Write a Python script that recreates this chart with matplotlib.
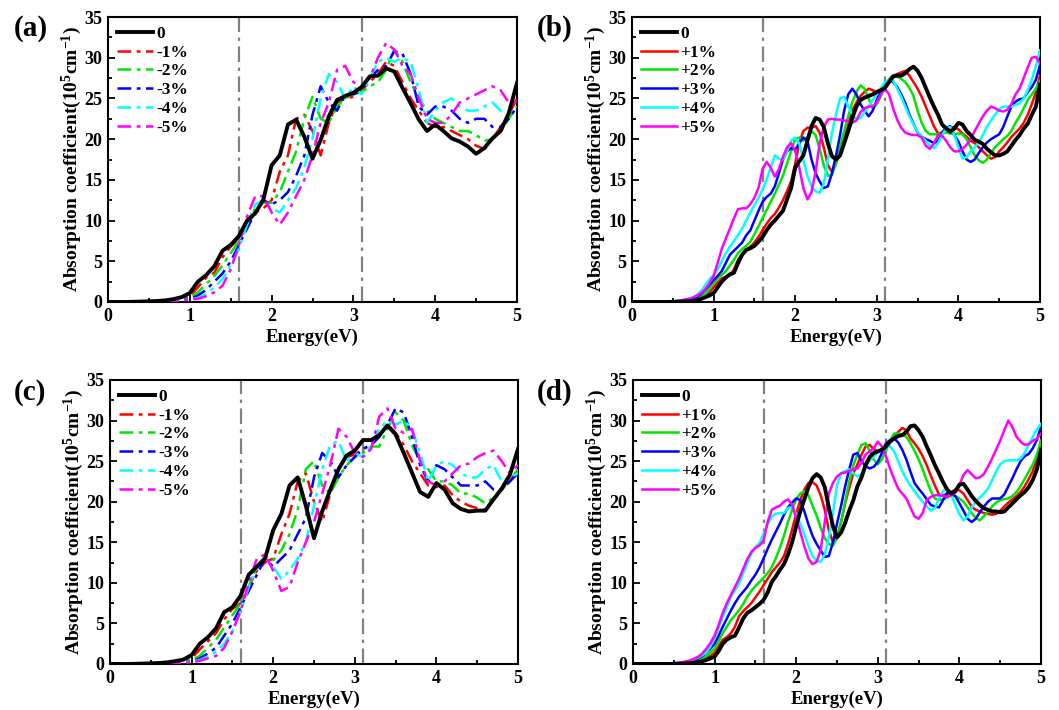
import numpy as np
import matplotlib
matplotlib.use("Agg")
import matplotlib.pyplot as plt

plt.rcParams['font.family'] = ['Liberation Serif', 'DejaVu Serif']
plt.rcParams['font.weight'] = 'bold'
plt.rcParams['mathtext.fontset'] = 'custom'
plt.rcParams['mathtext.bf'] = 'Liberation Serif:bold'
plt.rcParams['mathtext.rm'] = 'Liberation Serif:bold'
plt.rcParams['mathtext.default'] = 'bf'

# ---------------- data ----------------
# panels (a) and (c): 0.1 eV grid
energy_coarse = np.round(np.arange(0, 5.0001, 0.1), 2)
# panels (b) and (d): 0.05 eV grid
energy_fine = np.round(np.arange(0, 5.0001, 0.05), 3)

compressive_labels = ['0', '-1%', '-2%', '-3%', '-4%', '-5%']
tensile_labels = ['0', '+1%', '+2%', '+3%', '+4%', '+5%']
series_colors = ['#000000', '#FF0000', '#00E600', '#0000FF', '#00FFFF', '#FF00FF']
vlines_energy = [1.6, 3.1]

# ---- panel (a) ----
a_0 = [0, 0, 0, 0.02, 0.05, 0.08, 0.12, 0.2, 0.35, 0.6,
       1.1, 2.5, 3.3, 4.4, 6.3, 7.0, 8.1, 10.0, 10.9, 12.6,
       16.8, 18.0, 21.8, 22.4, 20.3, 17.6, 19.9, 22.8, 24.8, 25.3,
       25.7, 26.4, 27.7, 27.8, 28.7, 28.3, 26.3, 24.4, 22.4, 21.0,
       21.8, 21.0, 20.1, 19.7, 19.1, 18.2, 18.9, 20.1, 21.0, 23.2,
       26.9]
a_1 = [0, 0, 0, 0.01, 0.03, 0.06, 0.1, 0.15, 0.25, 0.45,
       0.7, 1.8, 3.0, 3.6, 5.5, 6.8, 7.8, 9.5, 11.0, 11.5,
       12.5, 16.0, 18.0, 22.5, 23.0, 21.0, 18.0, 22.0, 24.5, 25.0,
       25.2, 26.0, 27.0, 28.0, 29.5, 29.0, 27.0, 25.0, 23.5, 22.0,
       21.5, 21.5, 21.0, 20.5, 20.0, 19.2, 18.8, 20.0, 21.5, 23.0,
       25.0]
a_2 = [0, 0, 0, 0.01, 0.02, 0.05, 0.08, 0.12, 0.2, 0.35,
       0.5, 1.2, 2.2, 3.2, 4.5, 6.0, 7.5, 9.5, 11.5, 12.2,
       12.2, 13.5, 16.0, 18.5, 22.5, 25.2, 22.5, 22.0, 24.0, 25.0,
       25.5, 25.8, 26.5, 27.0, 28.5, 31.0, 29.5, 27.0, 25.0, 23.5,
       22.5, 22.0, 21.5, 21.0, 21.0, 20.5, 19.8, 20.0, 21.0, 22.5,
       24.0]
a_3 = [0, 0, 0, 0.01, 0.02, 0.04, 0.07, 0.1, 0.17, 0.3,
       0.4, 0.8, 1.5, 2.5, 3.5, 5.0, 7.0, 9.0, 11.0, 12.5,
       12.0, 12.5, 13.5, 15.5, 18.0, 23.0, 26.5, 24.5, 23.5, 25.5,
       25.5, 26.0, 27.5, 28.5, 29.0, 30.8, 30.5, 28.0, 24.0, 23.0,
       24.0, 24.0, 23.5, 22.5, 22.0, 22.5, 22.5, 21.5, 21.5, 22.5,
       24.0]
a_4 = [0, 0, 0, 0.01, 0.02, 0.03, 0.06, 0.09, 0.15, 0.25,
       0.3, 0.5, 1.0, 1.8, 2.8, 4.5, 6.5, 9.5, 12.0, 12.5,
       11.5, 11.0, 12.5, 14.0, 16.5, 20.0, 25.0, 28.0, 27.0, 25.0,
       26.5, 25.5, 27.5, 29.5, 30.0, 29.5, 30.0, 29.5, 26.0, 22.0,
       23.5, 24.5, 25.0, 24.0, 23.5, 23.5, 24.0, 24.5, 23.5, 23.5,
       23.5]
a_5 = [0, 0, 0, 0.01, 0.02, 0.03, 0.05, 0.08, 0.13, 0.2,
       0.3, 0.4, 0.7, 1.2, 2.0, 4.0, 7.0, 10.5, 13.0, 13.0,
       11.0, 9.5, 11.0, 13.0, 15.0, 18.0, 22.0, 24.5, 28.5, 29.0,
       27.0, 26.5, 27.5, 30.0, 31.8, 31.0, 29.0, 28.0, 25.0, 22.5,
       22.0, 22.0, 23.0, 24.5, 25.0, 25.5, 26.0, 26.5, 26.0, 24.5,
       24.5]

# ---- panel (c) ----
c_0 = [0, 0, 0, 0.02, 0.05, 0.08, 0.12, 0.2, 0.35, 0.55,
       1.1, 2.5, 3.3, 4.4, 6.4, 7.0, 8.4, 11.0, 12.0, 13.0,
       16.5, 18.5, 22.0, 23.0, 19.5, 15.5, 18.8, 21.5, 24.0, 25.7,
       26.3, 27.6, 27.6, 28.2, 29.4, 28.3, 26.0, 23.6, 21.2, 20.6,
       22.3, 21.5, 19.8, 19.1, 18.8, 18.9, 18.9, 20.3, 21.6, 23.3,
       26.5]
c_1 = [0, 0, 0, 0.01, 0.03, 0.06, 0.1, 0.15, 0.25, 0.45,
       0.7, 1.8, 2.8, 3.8, 5.5, 6.8, 7.5, 9.5, 11.5, 12.5,
       13.0, 16.0, 18.5, 22.5, 23.5, 20.0, 17.5, 21.0, 24.0, 25.5,
       25.8, 26.5, 27.0, 28.0, 29.5, 28.5, 27.0, 25.0, 23.5, 22.0,
       21.8, 22.0, 20.8, 20.0, 19.5, 19.2, 19.0, 20.2, 21.5, 22.5,
       24.0]
c_2 = [0, 0, 0, 0.01, 0.02, 0.05, 0.08, 0.12, 0.2, 0.35,
       0.5, 1.0, 2.0, 3.0, 4.5, 6.0, 7.5, 9.5, 12.0, 13.2,
       12.8, 14.0, 16.0, 19.0, 24.0, 25.0, 22.0, 21.0, 23.0, 24.5,
       25.5, 26.0, 26.8, 26.8, 29.0, 31.0, 30.0, 27.0, 25.0, 24.0,
       22.5, 22.5, 22.0, 21.0, 21.0, 20.5, 19.8, 20.5, 21.5, 22.5,
       24.0]
c_3 = [0, 0, 0, 0.01, 0.02, 0.04, 0.07, 0.1, 0.17, 0.25,
       0.3, 0.7, 1.3, 2.0, 3.5, 5.0, 7.0, 9.0, 11.0, 13.0,
       12.0, 13.0, 14.0, 16.0, 18.0, 23.0, 26.0, 25.0, 23.0, 24.5,
       25.5, 26.5, 27.0, 28.0, 29.5, 31.5, 31.0, 28.0, 24.5, 22.5,
       24.5, 24.0, 23.0, 22.0, 22.0, 22.0, 22.5, 21.5, 21.5, 22.5,
       23.5]
c_4 = [0, 0, 0, 0.01, 0.02, 0.03, 0.06, 0.09, 0.15, 0.22,
       0.3, 0.5, 0.9, 1.5, 2.5, 4.0, 6.5, 9.5, 12.0, 13.0,
       12.0, 10.5, 11.5, 13.0, 15.0, 19.5, 24.0, 27.0, 27.5, 25.0,
       26.0, 25.5, 27.0, 29.0, 30.0, 29.5, 30.0, 29.0, 26.0, 22.5,
       24.5, 25.0, 24.5, 23.5, 23.0, 23.0, 24.0, 24.5, 22.5, 23.0,
       23.5]
c_5 = [0, 0, 0, 0.01, 0.02, 0.03, 0.05, 0.08, 0.13, 0.18,
       0.2, 0.4, 0.7, 1.0, 2.0, 4.0, 6.5, 10.0, 13.0, 13.5,
       11.5, 9.0, 9.5, 12.5, 15.0, 17.5, 21.0, 24.5, 29.0, 28.0,
       26.0, 25.5, 26.5, 30.5, 31.5, 29.0, 28.5, 29.0, 25.0, 22.5,
       22.0, 22.5, 23.5, 24.5, 24.7, 25.5, 26.0, 26.3, 25.0, 23.5,
       24.5]

# ---- panel (b) ----
b_0 = [0, 0, 0, 0, 0, 0, 0, 0, 0, 0,
       0.02, 0.03, 0.05, 0.07, 0.1, 0.15, 0.25, 0.4, 0.6, 0.8,
       1.1, 1.8, 2.5, 3.0, 3.4, 3.6, 4.8, 5.8, 6.4, 6.6,
       6.9, 7.4, 8.0, 8.8, 9.5, 10.0, 10.6, 11.2, 12.6, 14.0,
       16.5, 17.3, 18.0, 19.8, 21.6, 22.6, 22.4, 21.5, 19.5, 17.9,
       17.5, 18.0, 19.5, 21.0, 22.6, 24.0, 24.8, 25.1, 25.3, 25.5,
       25.8, 26.0, 26.3, 27.0, 27.7, 27.8, 27.8, 28.1, 28.6, 28.9,
       28.4, 27.5, 26.3, 25.1, 24.0, 23.0, 21.8, 21.3, 20.9, 21.3,
       22.0, 21.8, 21.0, 20.5, 19.9, 19.7, 19.4, 18.8, 18.4, 18.0,
       18.0, 18.2, 18.5, 19.2, 19.9, 20.5, 21.3, 21.9, 23.0, 24.0,
       26.7]
b_1 = [0, 0, 0, 0, 0, 0, 0, 0, 0, 0.01,
       0.03, 0.05, 0.08, 0.12, 0.2, 0.3, 0.4, 0.6, 0.8, 1.2,
       1.8, 2.4, 2.9, 3.1, 3.3, 4.0, 5.2, 5.9, 6.4, 6.8,
       7.3, 8.0, 8.8, 9.6, 10.3, 10.8, 11.6, 12.5, 13.6, 14.8,
       17.0, 19.5, 21.0, 21.4, 21.4, 21.6, 20.8, 19.0, 16.8, 16.0,
       17.0, 18.5, 20.3, 21.8, 23.5, 24.5, 25.3, 25.8, 26.2, 26.0,
       25.8, 26.2, 26.8, 27.2, 27.8, 28.0, 28.2, 28.4, 27.8, 27.0,
       26.2, 25.2, 24.0, 22.8, 21.6, 20.7, 20.8, 21.2, 21.4, 21.5,
       21.2, 20.7, 20.3, 19.8, 19.5, 19.0, 18.5, 18.0, 17.6, 17.8,
       18.5, 19.0, 19.6, 20.3, 20.8, 21.3, 22.0, 23.0, 24.3, 25.8,
       27.8]
b_2 = [0, 0, 0, 0, 0, 0, 0, 0, 0, 0.01,
       0.03, 0.06, 0.1, 0.15, 0.25, 0.35, 0.5, 0.7, 1.0, 1.6,
       2.3, 2.9, 3.3, 3.8, 4.5, 5.2, 6.0, 6.5, 6.9, 7.4,
       8.3, 9.3, 10.3, 11.3, 12.3, 13.3, 14.4, 15.5, 17.0, 18.5,
       20.0, 20.2, 19.8, 20.3, 21.0, 20.5, 18.8, 16.8, 15.5, 15.6,
       17.0, 19.0, 21.0, 22.8, 24.5, 25.8, 26.6, 26.2, 25.0, 23.8,
       24.3, 25.3, 26.5, 27.3, 27.8, 27.7, 27.4, 27.0, 26.3, 25.3,
       23.5, 22.0, 21.0, 20.6, 20.6, 20.6, 20.7, 20.8, 20.7, 20.6,
       20.7, 20.6, 20.0, 19.0, 18.0, 17.4, 17.1, 17.5, 18.3, 19.0,
       19.5, 20.0, 20.4, 21.0, 22.0, 22.8, 23.8, 24.8, 25.5, 26.2,
       27.1]
b_3 = [0, 0, 0, 0, 0, 0, 0, 0, 0.01, 0.02,
       0.05, 0.08, 0.12, 0.2, 0.3, 0.45, 0.7, 1.0, 1.5, 2.1,
       2.7, 3.2, 3.8, 4.8, 5.8, 6.3, 6.8, 7.3, 8.2, 8.8,
       10.0, 11.2, 12.3, 12.9, 13.3, 14.2, 15.8, 17.5, 18.5, 18.9,
       18.7, 19.5, 20.2, 19.8, 17.5, 15.8, 14.8, 14.0, 14.2, 15.8,
       18.0, 20.5, 23.5, 25.5, 26.2, 25.5, 24.3, 23.5, 22.8, 23.5,
       24.8, 26.0, 26.8, 27.3, 27.0, 26.4, 25.5, 24.4, 23.0, 21.9,
       20.8, 20.3, 20.0, 19.8, 19.5, 19.8, 20.8, 21.4, 21.6, 20.5,
       19.7, 18.5, 17.5, 17.2, 17.5, 18.3, 19.0, 19.6, 20.0, 20.3,
       20.6, 21.5, 22.8, 24.0, 24.6, 24.9, 25.0, 25.8, 26.4, 27.3,
       29.1]
b_4 = [0, 0, 0, 0, 0, 0, 0, 0.01, 0.02, 0.03,
       0.07, 0.12, 0.18, 0.28, 0.4, 0.6, 0.9, 1.4, 2.1, 2.8,
       3.3, 4.0, 5.0, 6.0, 6.8, 7.5, 8.2, 9.0, 10.0, 11.0,
       11.9, 12.8, 13.8, 15.0, 16.5, 18.0, 17.6, 17.5, 18.5, 19.8,
       20.2, 19.5, 17.4, 15.5, 14.2, 13.6, 13.4, 14.5, 17.5, 20.7,
       23.0, 25.0, 25.2, 24.0, 23.0, 22.4, 22.6, 23.3, 24.0, 24.8,
       25.5, 26.3, 27.0, 27.3, 27.2, 26.2, 25.2, 24.0, 22.8, 21.8,
       20.9, 20.3, 19.8, 19.2, 18.9, 19.5, 20.5, 21.3, 21.5, 20.5,
       19.0, 17.6, 17.8, 18.5, 19.0, 19.6, 20.5, 21.5, 22.3, 23.0,
       23.7, 24.0, 24.0, 24.0, 24.2, 24.4, 25.0, 26.0, 27.3, 29.0,
       30.9]
b_5 = [0, 0, 0, 0, 0, 0, 0, 0.01, 0.02, 0.04,
       0.07, 0.12, 0.2, 0.3, 0.4, 0.55, 0.8, 1.1, 1.6, 2.3,
       3.2, 4.8, 6.5, 7.8, 9.0, 10.3, 11.4, 11.5, 11.5, 12.0,
       12.8, 14.0, 16.3, 17.2, 16.5, 15.4, 16.3, 17.8, 19.0, 19.5,
       18.5, 16.5, 14.0, 12.6, 13.5, 16.0, 19.5, 21.5, 22.4, 22.5,
       22.4, 22.4, 22.3, 22.2, 22.0, 22.3, 23.3, 23.8, 24.0, 24.0,
       24.5, 25.5, 26.2, 25.5, 23.8, 22.4, 21.4, 20.8, 20.6, 20.5,
       20.5, 20.2, 19.2, 18.8, 19.5, 20.5, 20.4, 19.8, 19.0, 18.5,
       18.5, 18.8, 19.3, 20.0, 21.0, 21.9, 22.8, 23.5, 24.0, 23.8,
       23.5, 23.4, 23.6, 24.3, 25.5, 26.2, 27.5, 28.8, 30.0, 30.1,
       29.3]

# ---- panel (d) ----
d_0 = [0, 0, 0, 0, 0, 0, 0, 0, 0, 0,
       0.02, 0.03, 0.05, 0.07, 0.1, 0.15, 0.25, 0.35, 0.5, 0.7,
       0.9, 1.6, 2.5, 3.0, 3.3, 3.5, 4.5, 5.6, 6.3, 6.6,
       7.0, 7.4, 7.9, 8.8, 10.1, 10.8, 11.6, 12.3, 13.5, 15.0,
       17.0, 18.8, 20.3, 21.8, 22.9, 23.4, 23.0, 21.8, 19.3, 17.0,
       15.6, 16.2, 17.4, 18.9, 20.2, 21.9, 23.0, 24.5, 25.5, 26.0,
       26.2, 26.4, 26.8, 27.4, 27.8, 28.1, 28.2, 28.6, 29.3, 29.4,
       28.8, 28.0, 26.8, 25.7, 24.5, 23.5, 22.4, 21.5, 21.0, 21.3,
       22.1, 22.2, 21.5, 20.7, 20.1, 19.6, 19.2, 19.0, 18.8, 18.8,
       18.7, 18.8, 19.3, 19.8, 20.3, 20.8, 21.2, 21.8, 22.7, 24.0,
       26.4]
d_1 = [0, 0, 0, 0, 0, 0, 0, 0, 0, 0.01,
       0.03, 0.05, 0.08, 0.12, 0.18, 0.28, 0.4, 0.6, 0.8, 1.0,
       1.4, 2.2, 3.0, 3.3, 3.8, 4.6, 5.9, 6.5, 7.0, 7.5,
       8.2, 8.9, 9.7, 10.5, 11.3, 11.9, 12.5, 13.3, 14.8, 16.6,
       18.5, 20.2, 21.5, 22.3, 22.4, 22.0, 20.8, 19.0, 16.5, 15.0,
       15.7, 17.5, 19.8, 21.7, 23.5, 24.6, 25.8, 26.8, 27.0, 26.5,
       26.2, 26.5, 27.0, 27.5, 28.1, 28.6, 29.1, 28.8, 27.8, 27.2,
       26.5, 25.6, 24.5, 23.2, 22.0, 20.9, 20.8, 20.9, 21.2, 21.5,
       21.4, 21.0, 20.2, 19.4, 19.0, 18.8, 18.6, 18.5, 18.4, 18.5,
       18.9, 19.4, 19.9, 20.3, 20.7, 21.2, 21.9, 22.8, 23.8, 25.3,
       27.6]
d_2 = [0, 0, 0, 0, 0, 0, 0, 0, 0.01, 0.02,
       0.04, 0.07, 0.11, 0.17, 0.25, 0.35, 0.5, 0.7, 1.0, 1.4,
       1.9, 2.8, 3.8, 4.6, 5.4, 6.0, 6.6, 7.4, 8.3, 9.0,
       9.6, 10.1, 10.6, 11.2, 11.9, 13.0, 14.3, 15.8, 17.5, 19.0,
       20.3, 21.0, 21.3, 20.8, 19.5, 18.3, 16.8, 15.5, 14.8, 14.6,
       15.5, 17.5, 20.0, 22.5, 24.5, 25.8, 27.0, 27.2, 26.3, 25.2,
       24.6, 25.2, 26.3, 27.5, 28.4, 28.4, 28.3, 28.0, 27.2, 26.3,
       25.2, 24.0, 22.6, 21.3, 20.4, 20.2, 20.3, 20.5, 20.8, 20.7,
       20.4, 20.0, 19.3, 18.6, 18.0, 17.7, 18.2, 18.8, 19.4, 19.9,
       20.2, 20.3, 20.4, 20.7, 21.2, 21.9, 22.8, 23.7, 24.6, 25.8,
       27.5]
d_3 = [0, 0, 0, 0, 0, 0, 0, 0.01, 0.02, 0.03,
       0.06, 0.1, 0.15, 0.23, 0.35, 0.5, 0.7, 1.0, 1.4, 1.9,
       2.5, 3.5, 4.6, 5.6, 6.6, 7.5, 8.3, 8.9, 9.5, 10.3,
       11.0, 11.9, 13.0, 14.2, 15.3, 16.3, 17.3, 18.4, 19.3, 19.9,
       20.4, 20.2, 18.8, 17.2, 15.8, 14.8, 14.0, 13.2, 13.3, 15.0,
       17.3, 19.5, 21.9, 24.0, 25.8, 26.0, 25.0, 24.4, 24.1, 24.3,
       24.9, 26.0, 27.2, 27.6, 27.8, 27.3, 26.4, 25.2, 23.7, 22.3,
       21.6, 21.0, 20.3, 19.6, 19.4, 19.3, 20.2, 21.1, 21.0, 20.7,
       19.8, 18.9, 17.9, 17.5, 17.9, 18.7, 19.4, 20.0, 20.4, 20.4,
       20.4, 20.9, 21.9, 22.9, 24.0, 25.0, 25.6, 25.9, 26.6, 27.6,
       29.3]
d_4 = [0, 0, 0, 0, 0, 0, 0, 0.01, 0.02, 0.04,
       0.07, 0.12, 0.18, 0.28, 0.4, 0.6, 0.8, 1.1, 1.4, 2.2,
       3.2, 4.5, 5.8, 7.0, 8.3, 9.1, 9.9, 11.2, 12.4, 13.6,
       14.4, 14.9, 16.0, 17.2, 18.2, 18.5, 18.6, 18.6, 19.2, 19.4,
       18.5, 17.3, 16.0, 14.6, 13.3, 12.7, 12.6, 13.5, 15.6, 18.5,
       22.0, 23.5, 23.8, 24.0, 23.5, 23.1, 23.4, 24.3, 25.1, 25.6,
       26.1, 26.4, 26.7, 26.8, 26.2, 25.0, 23.8, 22.8, 22.0, 21.3,
       20.6, 20.0, 19.4, 18.9, 19.2, 20.4, 21.3, 21.7, 20.8, 19.6,
       18.5, 17.7, 18.2, 19.3, 20.0, 20.5, 21.0, 21.6, 22.6, 23.7,
       24.6, 25.0, 25.1, 25.1, 25.1, 25.3, 26.0, 27.0, 28.0, 28.9,
       29.6]
d_5 = [0, 0, 0, 0, 0, 0, 0, 0.01, 0.03, 0.05,
       0.1, 0.15, 0.22, 0.32, 0.45, 0.65, 0.9, 1.3, 1.9, 2.6,
       3.5, 4.8, 6.3, 7.5, 8.5, 9.5, 10.5, 11.7, 12.9, 13.8,
       14.3, 14.6, 15.2, 17.5, 19.0, 19.3, 19.5, 20.0, 20.3, 19.6,
       18.0, 16.3, 14.5, 13.0, 12.3, 12.6, 14.0, 17.5, 21.0, 22.3,
       23.1, 23.5, 23.6, 23.8, 24.0, 24.1, 24.8, 25.8, 26.2, 26.6,
       27.4, 26.8, 25.6, 24.1, 22.8, 21.6, 21.0, 20.4, 19.3, 18.2,
       17.9, 18.6, 20.2, 20.6, 20.8, 20.8, 20.7, 20.6, 20.8, 21.1,
       22.0, 23.3, 23.9, 23.4, 22.9, 23.0, 23.4, 24.3, 25.3, 26.4,
       27.5, 28.8, 30.0, 29.2, 28.0, 27.4, 27.0, 27.1, 27.5, 27.8,
       28.4]

panels = [
    ('(a)', energy_coarse, [a_0, a_1, a_2, a_3, a_4, a_5], compressive_labels, True),
    ('(b)', energy_fine, [b_0, b_1, b_2, b_3, b_4, b_5], tensile_labels, False),
    ('(c)', energy_coarse, [c_0, c_1, c_2, c_3, c_4, c_5], compressive_labels, True),
    ('(d)', energy_fine, [d_0, d_1, d_2, d_3, d_4, d_5], tensile_labels, False),
]

# ---------------- figure ----------------
W, H = 1059, 710
fig = plt.figure(figsize=(W / 100, H / 100), dpi=100)

def box(l, t, r, b):
    return [l / W, 1 - b / H, (r - l) / W, (b - t) / H]

axes_boxes = [box(108, 17, 517, 302), box(632, 17, 1040, 302),
              box(110, 380, 518, 664), box(633, 380, 1041, 664)]
label_pos = [(14, 28), (537, 28), (14, 392), (537, 392)]

for (tag, energy, series, labels, dashed), rect, lp in zip(panels, axes_boxes, label_pos):
    ax = fig.add_axes(rect)
    for xv in vlines_energy:
        ax.axvline(xv, color='#808080', lw=1.6, ls=(0, (7, 2.5, 1.5, 2.5)), zorder=1)
    for i, (vals, lab, col) in enumerate(zip(series, labels, series_colors)):
        if i == 0:
            ax.plot(energy, vals, color=col, lw=2.8, label=lab, zorder=5,
                    solid_joinstyle='round')
        elif dashed:
            ax.plot(energy, vals, color=col, lw=1.8, label=lab, zorder=3,
                    dashes=(5.5, 2.2, 1.5, 2.2))
        else:
            ax.plot(energy, vals, color=col, lw=1.8, label=lab, zorder=3,
                    solid_joinstyle='round')
    ax.set_xlim(0, 5)
    ax.set_ylim(0, 35)
    ax.set_xticks(np.arange(0, 5.01, 1))
    ax.set_xticks(np.arange(0.5, 5, 1), minor=True)
    ax.set_yticks(np.arange(0, 35.01, 5))
    ax.set_yticks(np.arange(2.5, 35, 5), minor=True)
    ax.tick_params(which='both', direction='in', width=1.3, labelsize=13, pad=4)
    ax.tick_params(which='major', length=5)
    ax.tick_params(which='minor', length=3)
    for sp in ax.spines.values():
        sp.set_linewidth(1.5)
    for t in ax.get_xticklabels() + ax.get_yticklabels():
        t.set_fontweight('bold')
    ax.set_xlabel('Energy(eV)', fontsize=13.5, fontweight='bold', labelpad=3)
    ax.set_ylabel(r'Absorption coefficient(10$^{5}$cm$^{-1}$)', fontsize=14,
                  fontweight='bold', labelpad=0.5)
    leg = ax.legend(loc='upper left', frameon=False, fontsize=12.5,
                    handlelength=2.1, handletextpad=0.2, labelspacing=0.15,
                    borderaxespad=0.15, borderpad=0.35)
    for t in leg.get_texts():
        t.set_fontweight('bold')
    fig.text(lp[0] / W, 1 - lp[1] / H, tag, fontsize=21, fontweight='bold',
             ha='left', va='center')

fig.savefig('out.png', dpi=100)
